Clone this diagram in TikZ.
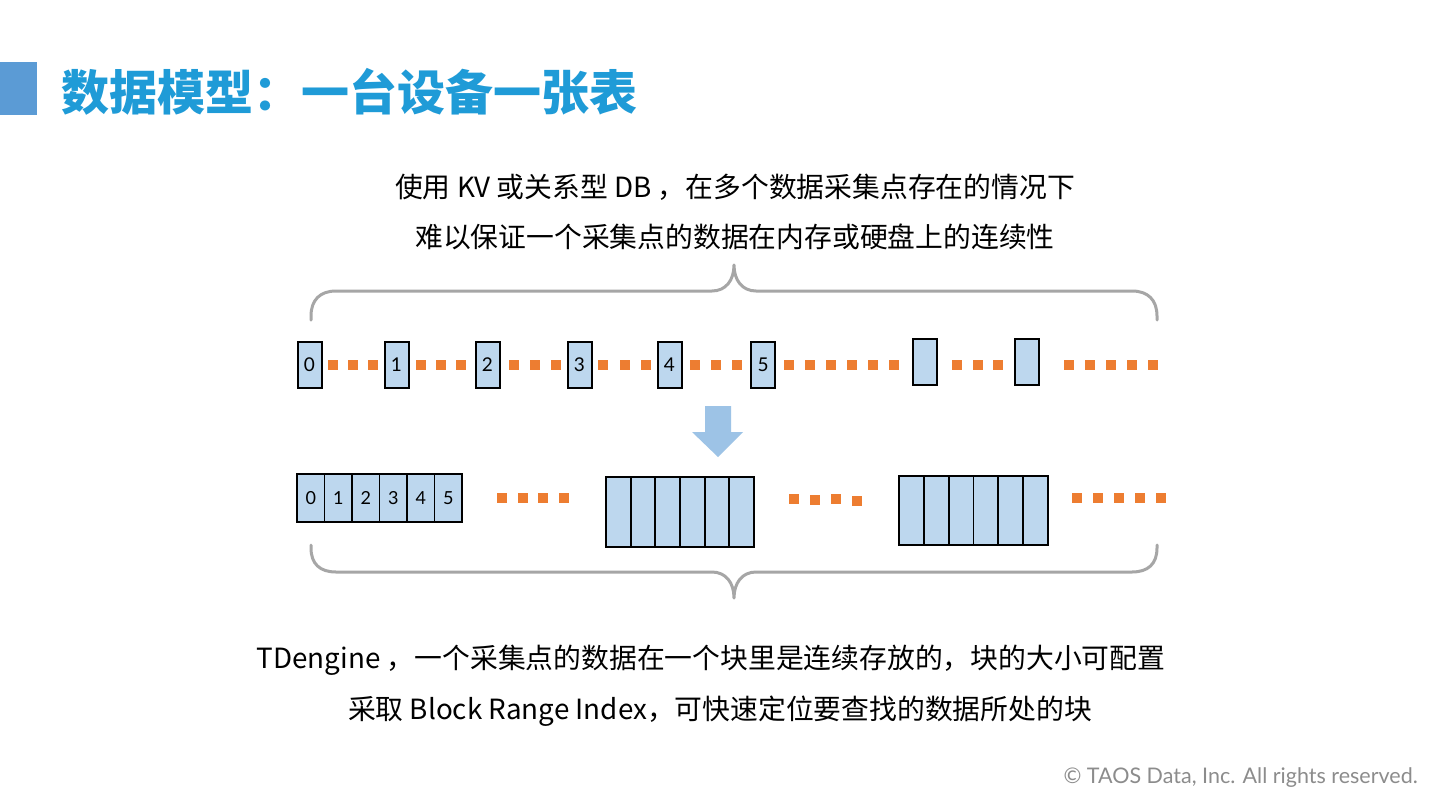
\documentclass[tikz,border=0pt]{standalone}
\usepackage{fontspec}
\setmainfont{Lato}
\newfontfamily\cjk{Noto Sans CJK SC}
\definecolor{cellblue}{HTML}{BDD7EE}
\definecolor{dotorange}{HTML}{ED7D31}
\definecolor{arrowblue}{HTML}{9DC3E6}
\definecolor{titleblue}{HTML}{1F9BD7}
\definecolor{barblue}{HTML}{5B9BD5}
\definecolor{bracegray}{HTML}{A6A6A6}
\definecolor{footgray}{HTML}{8C8C8C}
\begin{document}
\begin{tikzpicture}[x=1pt,y=-1pt,
  cell/.style={draw=black, line width=2pt, fill=cellblue, minimum width=24pt, minimum height=46pt, inner sep=0pt, font=\fontsize{19}{19}\selectfont},
  bcell/.style={draw=black, line width=1.8pt, fill=cellblue, inner sep=0pt, font=\fontsize{18}{18}\selectfont},
  bodytext/.style={font=\cjk\fontsize{27.8}{32}\selectfont, text=black, inner sep=0pt},
  bracestyle/.style={draw=bracegray, line width=3pt, line cap=round, line join=round},
  odot/.style={fill=dotorange}
]
\useasboundingbox (0,0) rectangle (1440,811);
\fill[white] (0,0) rectangle (1440,811);

% title
\fill[barblue] (0,62) rectangle (37,115);
\node[anchor=west, inner sep=0pt, text=titleblue, font=\cjk\bfseries\fontsize{48}{54}\selectfont] (title) at (61,92) {数据模型：一台设备一张表};

% top texts
\node[bodytext] (l1) at (735,187) {使用 KV 或关系型 DB ，在多个数据采集点存在的情况下};
\node[bodytext] (l2) at (735,237) {难以保证一个采集点的数据在内存或硬盘上的连续性};

% top brace
\draw[bracestyle] (311,320) -- (311,316) .. controls (311,300) and (320,291) .. (336,291) -- (712,291) .. controls (726,291) and (734,280) .. (734,265) .. controls (734,280) and (742,291) .. (756,291) -- (1132,291) .. controls (1148,291) and (1157,300) .. (1157,316) -- (1157,320);

% top row
\node[cell] (t0) at (309.5,365) {0};
\node[cell] (t1) at (396.5,365) {1};
\node[cell] (t2) at (487.5,365) {2};
\node[cell] (t3) at (579.5,365) {3};
\node[cell] (t4) at (669.5,365) {4};
\node[cell] (t5) at (763,365) {5};
\node[cell] (t6) at (924.5,362) {};
\node[cell] (t7) at (1026.5,362) {};
\foreach \x in {328,348,368, 416,436,456, 509,530,551, 598,620,641, 690,711,732, 784,805,826,847,868,889, 952,973,993, 1064,1085,1106,1127,1148}
  \fill[odot] (\x,360) rectangle ++(10,10);

% arrow
\fill[arrowblue] (705,406) -- (731,406) -- (731,432) -- (743,432) -- (718,457) -- (692,432) -- (705,432) -- cycle;

% bottom row
\foreach \i in {0,...,5}
  \node[bcell, minimum width=27.5pt, minimum height=48pt] (p\i) at ({310.75+27.5*\i},498) {\i};
\foreach \i in {0,...,5}
  \node[bcell, minimum width=24.67pt, minimum height=70pt] (q\i) at ({618.33+24.67*\i},512) {};
\foreach \i in {0,...,5}
  \node[bcell, minimum width=24.83pt, minimum height=69pt] (r\i) at ({911.4+24.83*\i},510.5) {};
\foreach \x in {497,518,538,559, 1072,1093,1114,1135,1156}
  \fill[odot] (\x,493) rectangle ++(10,10);
\foreach \x/\y in {789/494,810/495,831/494,852/496}
  \fill[odot] (\x,\y) rectangle ++(10,10);

% bottom brace
\draw[bracestyle] (311,545) -- (311,548) .. controls (311,564) and (320,572) .. (336,572) -- (712,572) .. controls (726,572) and (734,583) .. (734,598) .. controls (734,583) and (742,572) .. (756,572) -- (1132,572) .. controls (1148,572) and (1157,564) .. (1157,548) -- (1157,545);

% bottom texts
\node[bodytext] (l3) at (711,660) {TDengine ，一个采集点的数据在一个块里是连续存放的，块的大小可配置};
\node[bodytext] (l4) at (720,711) {采取 Block Range Index，可快速定位要查找的数据所处的块};

% footer
\node[anchor=east, inner sep=0pt, text=footgray, font=\fontsize{21.5}{24}\selectfont] (foot) at (1418,778) {© TAOS Data, Inc. All rights reserved.};
\end{tikzpicture}
\end{document}
